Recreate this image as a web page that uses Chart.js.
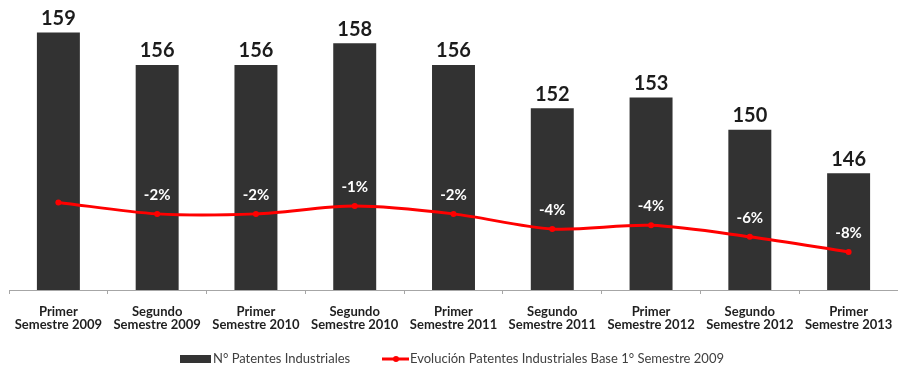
<!DOCTYPE html>
<html lang="es">
<head>
    <meta charset="UTF-8">
    <title>Patentes Industriales</title>
    <script src="https://cdn.jsdelivr.net/npm/chart.js"></script>
    <style>
        html, body { margin: 0; padding: 0; background: #fff; }
        .chart-container { position: relative; width: 898px; height: 367px; }
    </style>
</head>
<body>

    <div class="chart-container">
        <canvas id="patentesChart"></canvas>
    </div>

    <script>
        // Semestres (eje X, dos lineas por etiqueta)
        const periodos = [
            ['Primer', 'Semestre 2009'],
            ['Segundo', 'Semestre 2009'],
            ['Primer', 'Semestre 2010'],
            ['Segundo', 'Semestre 2010'],
            ['Primer', 'Semestre 2011'],
            ['Segundo', 'Semestre 2011'],
            ['Primer', 'Semestre 2012'],
            ['Segundo', 'Semestre 2012'],
            ['Primer', 'Semestre 2013']
        ];

        // N° de patentes industriales por semestre
        const patentes = [159, 156, 156, 158, 156, 152, 153, 150, 146];

        // Evolucion (%) respecto al 1° semestre 2009
        const evolucion = [0, -1.9, -1.9, -0.6, -1.9, -4.4, -3.8, -5.7, -8.2];

        const nombreBarras = 'N° Patentes Industriales';
        const nombreLinea = 'Evolución Patentes Industriales Base 1° Semestre 2009';

        const FONT = 'Lato, "DejaVu Sans", sans-serif';

        // Etiquetas de valor sobre barras y porcentajes sobre la linea
        const valueLabels = {
            id: 'valueLabels',
            afterDatasetsDraw(chart) {
                const ctx = chart.ctx;
                ctx.save();
                ctx.textAlign = 'center';
                ctx.textBaseline = 'middle';

                const bars = chart.getDatasetMeta(0).data;
                ctx.font = 'bold 20px ' + FONT;
                ctx.fillStyle = '#1c1c1c';
                bars.forEach((bar, i) => {
                    ctx.fillText(String(patentes[i]), bar.x, bar.y - 14);
                });

                const points = chart.getDatasetMeta(1).data;
                ctx.font = 'bold 15px ' + FONT;
                ctx.fillStyle = '#ffffff';
                points.forEach((pt, i) => {
                    if (i === 0) return;
                    ctx.fillText(Math.round(evolucion[i]) + '%', pt.x, pt.y - 19);
                });
                ctx.restore();
            }
        };

        // Leyenda dibujada a mano bajo el grafico
        const customLegend = {
            id: 'customLegend',
            afterDraw(chart) {
                const ctx = chart.ctx;
                const y = 359;
                ctx.save();
                ctx.font = '13px ' + FONT;
                ctx.textBaseline = 'middle';
                ctx.fillStyle = '#333333';

                ctx.fillRect(180, y - 4, 31, 8);
                ctx.fillStyle = '#404040';
                ctx.fillText(nombreBarras, 213, y);

                ctx.strokeStyle = '#ff0000';
                ctx.lineWidth = 3;
                ctx.beginPath();
                ctx.moveTo(382, y);
                ctx.lineTo(409, y);
                ctx.stroke();
                ctx.fillStyle = '#ff0000';
                ctx.beginPath();
                ctx.arc(396, y, 3, 0, Math.PI * 2);
                ctx.fill();

                ctx.fillStyle = '#404040';
                ctx.fillText(nombreLinea, 410, y);
                ctx.restore();
            }
        };

        const ctx = document.getElementById('patentesChart').getContext('2d');
        const patentesChart = new Chart(ctx, {
            data: {
                labels: periodos,
                datasets: [
                    {
                        type: 'bar',
                        label: nombreBarras,
                        data: patentes,
                        backgroundColor: '#323232',
                        borderWidth: 0,
                        barPercentage: 0.435,
                        categoryPercentage: 1,
                        yAxisID: 'y',
                        order: 2
                    },
                    {
                        type: 'line',
                        label: nombreLinea,
                        data: evolucion,
                        borderColor: '#ff0000',
                        backgroundColor: '#ff0000',
                        borderWidth: 3,
                        pointRadius: 3,
                        pointBorderWidth: 0,
                        tension: 0.3,
                        yAxisID: 'y2',
                        order: 1
                    }
                ]
            },
            options: {
                responsive: true,
                maintainAspectRatio: false,
                animation: false,
                layout: {
                    autoPadding: false,
                    padding: { top: 0, left: 9, right: 0, bottom: 25 }
                },
                plugins: {
                    legend: { display: false },
                    tooltip: { enabled: false }
                },
                scales: {
                    x: {
                        offset: true,
                        grid: {
                            display: true,
                            offset: true,
                            drawOnChartArea: false,
                            tickLength: 4,
                            color: '#a6a6a6'
                        },
                        border: { color: '#a6a6a6', width: 1 },
                        ticks: {
                            color: '#1f1f1f',
                            font: { family: FONT, size: 13, weight: 'bold', lineHeight: 1.0 },
                            padding: 11,
                            maxRotation: 0,
                            autoSkip: false
                        },
                        // las etiquetas caben en su categoria, sin margen extra a los lados
                        afterFit(scale) {
                            scale.paddingLeft = 0;
                            scale.paddingRight = 0;
                        }
                    },
                    y: {
                        display: false,
                        min: 135.2,
                        max: 162
                    },
                    y2: {
                        display: false,
                        min: -14.5,
                        max: 33.5
                    }
                }
            },
            plugins: [valueLabels, customLegend]
        });
    </script>

</body>
</html>
